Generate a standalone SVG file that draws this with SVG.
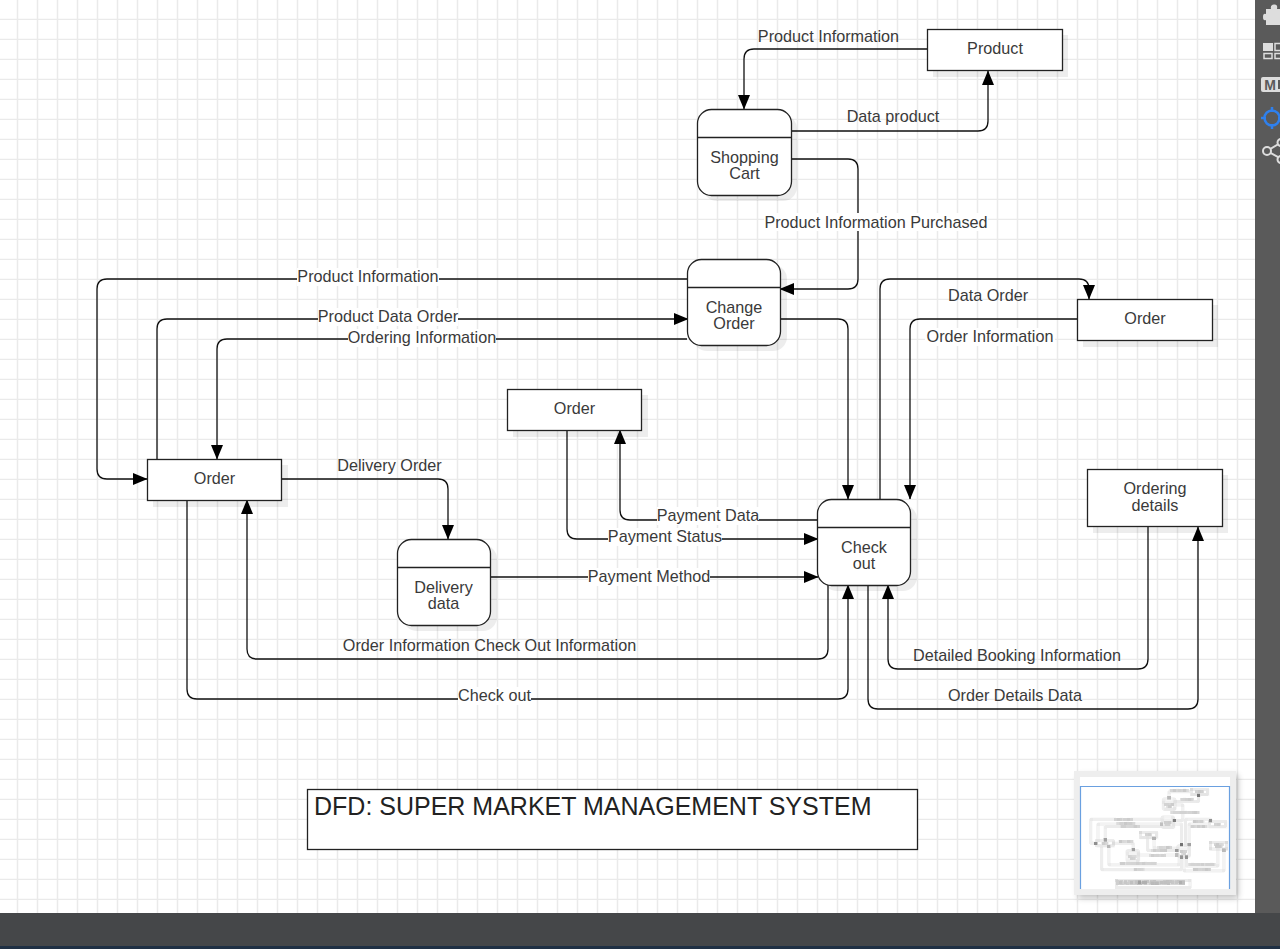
<svg xmlns="http://www.w3.org/2000/svg" width="1280" height="949" viewBox="0 0 1280 949">
<style>
text{font-family:"Liberation Sans",Arial,sans-serif;font-size:16.2px;fill:#3a3a3a;text-anchor:middle}
.n{fill:#fff;stroke:#222;stroke-width:1.3}
.s{fill:#000;opacity:.07}
.c{fill:none;stroke:#111;stroke-width:1.3;marker-end:url(#a)}
.l{fill:#fff}
.i{fill:#ddd}
.o{fill:none;stroke:#ddd;stroke-width:2}
</style>
<defs>
<marker id="a" markerUnits="userSpaceOnUse" markerWidth="16" markerHeight="14" refX="14" refY="6" orient="auto"><path d="M0 0L14.500 6L0 12Z" fill="#000"/></marker>
<pattern id="g" width="20" height="20" patternUnits="userSpaceOnUse"><path d="M17.500 0V20M0 19.500H20" stroke="#eaeaea" stroke-width="1.500" fill="none"/></pattern>
<filter id="b" x="0" y="0" width="100%" height="100%"><feMorphology operator="erode" radius="6"/><feGaussianBlur stdDeviation="5"/></filter>
<filter id="sh" x="-20%" y="-20%" width="140%" height="140%"><feGaussianBlur stdDeviation="3"/></filter>
</defs>
<rect width="1280" height="949" fill="#fff"/>
<rect width="1255" height="913" fill="url(#g)"/>
<g id="diagram">
<g id="connectors">
<path class="c" d="M927 49H754Q744 49 744 59V109"/>
<path class="c" d="M791 131H978Q988 131 988 121V71"/>
<path class="c" d="M791 159H848Q858 159 858 169V279Q858 289 848 289H780"/>
<path class="c" d="M687 279H107Q97 279 97 289V469Q97 479 107 479H147"/>
<path class="c" d="M157 459V329Q157 319 167 319H688"/>
<path class="c" d="M687 339H227Q217 339 217 349V459"/>
<path class="c" d="M282 479H438Q448 479 448 489V539"/>
<path class="c" d="M187 500V689Q187 699 197 699H838Q848 699 848 689V585"/>
<path class="c" d="M828 585V649Q828 659 818 659H257Q247 659 247 649V500"/>
<path class="c" d="M490 577H818"/>
<path class="c" d="M567 430V529Q567 539 577 539H818"/>
<path class="c" d="M818 520H630Q620 520 620 510V430"/>
<path class="c" d="M780 319H838Q848 319 848 329V499"/>
<path class="c" d="M880 499V289Q880 279 890 279H1079Q1089 279 1089 289V299"/>
<path class="c" d="M1077 319H920Q910 319 910 329V499"/>
<path class="c" d="M1148 527V659Q1148 669 1138 669H898Q888 669 888 659V585"/>
<path class="c" d="M868 585V699Q868 709 878 709H1188Q1198 709 1198 699V527"/>
</g>
<g id="labels">
<text x="828.500" y="42">Product Information</text>
<text x="893" y="122">Data product</text>
<rect class="l" x="764" y="213" width="224" height="18"/><text x="876" y="228">Product Information Purchased</text>
<rect class="l" x="297" y="268" width="142" height="18"/><text x="368" y="282">Product Information</text>
<rect class="l" x="318" y="308" width="140" height="18"/><text x="388" y="322">Product Data Order</text>
<rect class="l" x="348" y="329" width="148" height="18"/><text x="422" y="343">Ordering Information</text>
<text x="389.500" y="471">Delivery Order</text>
<rect class="l" x="458" y="687" width="73" height="18"/><text x="494.500" y="701">Check out</text>
<text x="489.500" y="651">Order Information Check Out Information</text>
<rect class="l" x="588" y="568" width="122" height="18"/><text x="649" y="582">Payment Method</text>
<rect class="l" x="608" y="528" width="114" height="18"/><text x="665" y="542">Payment Status</text>
<rect class="l" x="657" y="507" width="102" height="18"/><text x="708" y="521">Payment Data</text>
<text x="988" y="301">Data Order</text>
<rect class="l" x="925" y="328" width="130" height="18"/><text x="990" y="342">Order Information</text>
<text x="1017" y="661">Detailed Booking Information</text>
<text x="1015" y="701">Order Details Data</text>
</g>
<g id="product"><rect class="s" x="933" y="35" width="135" height="42"/><rect class="n" x="927.500" y="29.500" width="135" height="41"/><text x="995" y="54">Product</text></g>
<g id="shopping-cart"><rect class="s" x="703" y="115" width="94" height="86" rx="14"/><rect class="n" x="697.500" y="109.500" width="94" height="86" rx="14"/><path class="n" d="M697.500 137.500H791.500"/><text x="744.500" y="163">Shopping</text><text x="744.500" y="179">Cart</text></g>
<g id="change-order"><rect class="s" x="693" y="265" width="94" height="86" rx="14"/><rect class="n" x="687.500" y="259.500" width="93" height="86" rx="14"/><path class="n" d="M687.500 287.500H780.500"/><text x="734" y="313">Change</text><text x="734" y="329">Order</text></g>
<g id="order-right"><rect class="s" x="1083" y="305" width="135" height="42"/><rect class="n" x="1077.500" y="299.500" width="135" height="41"/><text x="1145" y="324">Order</text></g>
<g id="order-mid"><rect class="s" x="513" y="395" width="135" height="42"/><rect class="n" x="507.500" y="389.500" width="134" height="41"/><text x="574.500" y="414">Order</text></g>
<g id="order-left"><rect class="s" x="153" y="465" width="135" height="42"/><rect class="n" x="147.500" y="459.500" width="134" height="41"/><text x="214.500" y="484">Order</text></g>
<g id="check-out"><rect class="s" x="823" y="505" width="94" height="86" rx="14"/><rect class="n" x="817.500" y="499.500" width="93" height="86" rx="14"/><path class="n" d="M817.500 527.500H910.500"/><text x="864" y="553">Check</text><text x="864" y="569">out</text></g>
<g id="delivery-data"><rect class="s" x="403" y="545" width="94" height="86" rx="14"/><rect class="n" x="397.500" y="539.500" width="93" height="86" rx="14"/><path class="n" d="M397.500 567.500H490.500"/><text x="443.500" y="593">Delivery</text><text x="443.500" y="609">data</text></g>
<g id="ordering-details"><rect class="s" x="1093" y="475" width="135" height="58"/><rect class="n" x="1087.500" y="469.500" width="135" height="57"/><text x="1155" y="494">Ordering</text><text x="1155" y="511">details</text></g>
<g id="title"><rect class="n" x="307.500" y="789.500" width="610" height="60"/><text x="314" y="815" style="font-size:25px;text-anchor:start;fill:#222">DFD: SUPER MARKET MANAGEMENT SYSTEM</text></g>
</g>
<g id="chrome">
<rect x="1255" y="0" width="25" height="913" fill="#5a5a5a"/>
<rect y="913" width="1280" height="36" fill="#454749"/>
<rect y="946" width="1280" height="3" fill="#1f3044"/>
<path class="i" d="M1266 9h5q-1-4 3-4.500t3 4.500h3v16h-14v-5q-3 1-3-3t3-3z"/>
<rect class="i" x="1263" y="43" width="10" height="8"/><rect x="1275" y="43.500" width="7" height="7" fill="none" stroke="#ddd" stroke-width="1.500"/><rect x="1264" y="53.500" width="8" height="5" fill="none" stroke="#ddd" stroke-width="1.500"/><rect x="1275" y="53.500" width="7" height="5" fill="none" stroke="#ddd" stroke-width="1.500"/>
<rect class="i" x="1261" y="77" width="22" height="15" rx="2"/><text x="1270" y="90" style="font-size:14px;font-weight:bold;fill:#5a5a5a">M</text><rect x="1278" y="80" width="2" height="9" fill="#5a5a5a"/>
<circle cx="1272" cy="118" r="7.500" fill="none" stroke="#2f80ed" stroke-width="2.500"/><path d="M1272 107v5M1272 124v5M1261 118h5M1278 118h5" stroke="#2f80ed" stroke-width="2.500" fill="none"/>
<path class="o" d="M1285 140L1267 151L1285 161"/><circle cx="1267" cy="151" r="4" fill="#5a5a5a" stroke="#ddd" stroke-width="2"/><circle cx="1281" cy="142.500" r="3.500" fill="#5a5a5a" stroke="#ddd" stroke-width="2"/><circle cx="1281" cy="159.500" r="3.500" fill="#5a5a5a" stroke="#ddd" stroke-width="2"/>
</g>
<g id="minimap">
<rect x="1078" y="775" width="160" height="123" fill="#000" opacity=".25" filter="url(#sh)"/>
<rect x="1074" y="771" width="162" height="124" fill="#eee"/>
<rect x="1080" y="777" width="150" height="112" fill="#fff"/>
<g transform="translate(1079 785.800) scale(.121 .12)" filter="url(#b)" opacity=".55"><rect x="16" y="10" width="1224" height="860" fill="#fff"/><use href="#diagram"/></g>
<path d="M1080.500 889V786.500H1229.500V889" fill="none" stroke="#6aa0e0" stroke-width="1.200"/>
</g>
</svg>
